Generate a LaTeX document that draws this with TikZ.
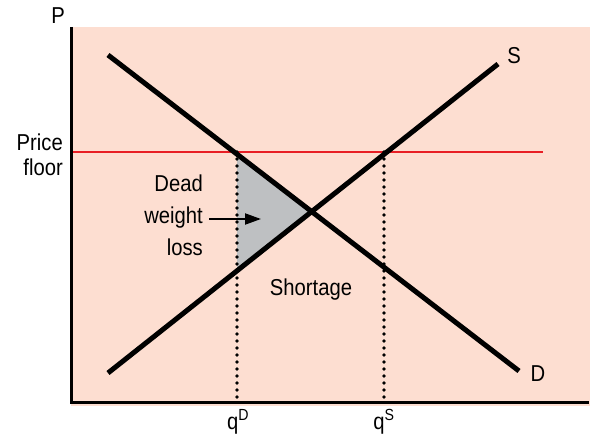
\documentclass[tikz,border=0pt]{standalone}
\usepackage{fontspec}
\setmainfont[FakeStretch=0.88]{Liberation Sans}
\usetikzlibrary{arrows.meta,calc,intersections}
\definecolor{bgpink}{RGB}{253,222,209}
\definecolor{dwlgray}{RGB}{190,192,194}
\definecolor{floorred}{RGB}{232,30,37}
\tikzset{
  curve/.style={line width=5pt,black},
  axisline/.style={line width=3pt,black},
  dotline/.style={line width=3.6pt,line cap=round,dash pattern=on 0pt off 7pt},
  lbl/.style={font=\fontsize{23}{25}\selectfont,inner sep=0pt},
}
\begin{document}
\begin{tikzpicture}[x=1pt,y=-1pt]
\useasboundingbox (0,0) rectangle (590,436);
\fill[bgpink] (71,27) rectangle (590,406);
% coordinates
\coordinate (D1) at (108,55);
\coordinate (D2) at (519,371);
\coordinate (S1) at (108,373);
\coordinate (S2) at (498,64);
\coordinate (E) at (311,211);
\coordinate (qDtop) at (237,152);
\coordinate (qDbot) at (237,402);
\coordinate (qStop) at (384,152);
\coordinate (qSbot) at (384,402);
\coordinate (Ttop) at (237,155);
\coordinate (Tbot) at (237,269);
% deadweight triangle
\fill[dwlgray] (Ttop) -- (E) -- (Tbot) -- cycle;
% price floor
\coordinate (PF1) at (71,152);
\coordinate (PF2) at (543,152);
\draw[floorred,line width=2pt] (PF1) -- (PF2);
% dotted
\draw[dotline] (qDtop) -- (qDbot);
\draw[dotline] (qStop) -- (qSbot);
% curves
\draw[curve] (D1) -- (D2);
\draw[curve] (S1) -- (S2);
% axes
\coordinate (O) at (71,402);
\coordinate (Ytop) at (71,27);
\coordinate (Xend) at (589,402);
\draw[axisline] (Ytop) -- (O) -- (Xend);
% labels
\node[lbl] (P) at (58,16) {P};
\node[lbl,align=right,anchor=east] (pf) at (63,155) {Price\\floor};
\node[lbl] (S) at (514,56) {S};
\node[lbl] (D) at (538,374) {D};
\node[lbl,align=right,anchor=east,font=\fontsize{23}{32}\selectfont] (dwl) at (203,215) {Dead\\weight\\loss};
\coordinate (arrEnd) at (261,219);
\draw[line width=2pt,-{Triangle[length=16pt,width=11pt]}] (dwl.east |- arrEnd) ++(6,0) -- (arrEnd);
\node[lbl] (short) at (311,290) {Shortage};
\node[lbl] (qD) at (238,422) {q\textsuperscript{D}};
\node[lbl] (qS) at (384,422) {q\textsuperscript{S}};
\end{tikzpicture}
\end{document}
